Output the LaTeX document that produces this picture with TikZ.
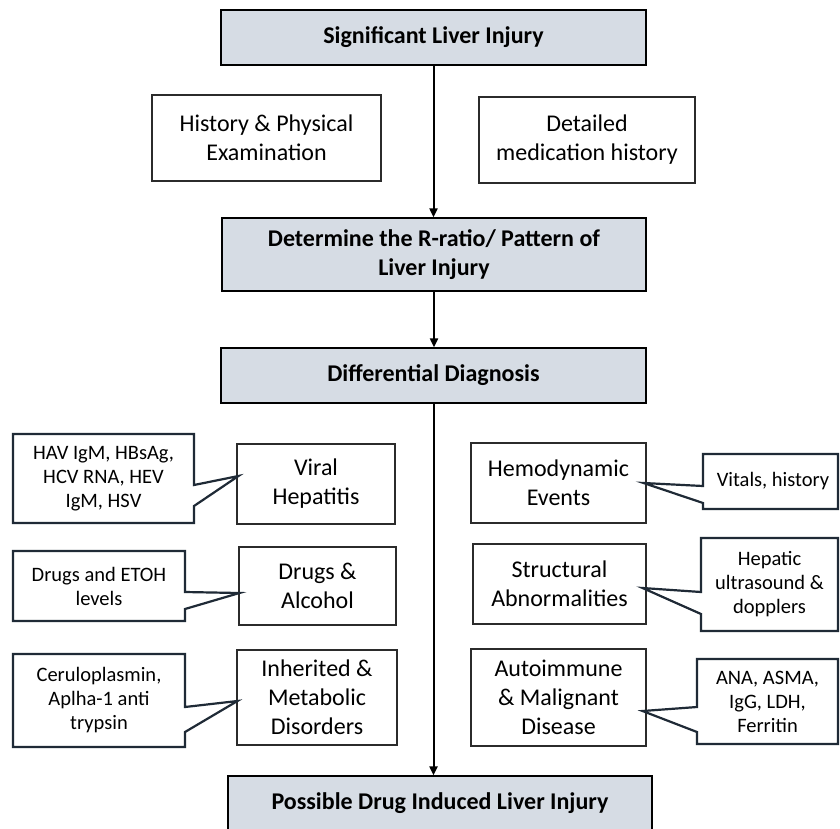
\documentclass[tikz,border=0pt]{standalone}
\usepackage{fontspec}
\setmainfont{Carlito}
\usetikzlibrary{arrows.meta,calc}
\definecolor{boxfill}{HTML}{D6DCE4}
\definecolor{callline}{HTML}{1F2A36}
\definecolor{boxline}{HTML}{2B2B2B}
\tikzset{
  plainbox/.style={draw=boxline, line width=1.1pt, fill=white, inner sep=2pt, align=center,
    font=\fontsize{24}{29}\selectfont},
  headbox/.style={draw=black, line width=1.3pt, fill=boxfill, inner sep=2pt, align=center,
    font=\fontsize{24}{29}\selectfont\bfseries},
  calltext/.style={inner sep=0pt, align=center, font=\fontsize{20.5}{24}\selectfont},
  callout/.style={draw=callline, line width=2.2pt, line join=miter, fill=white},
  flow/.style={draw=black, line width=2pt, -{Triangle[length=9pt,width=8pt]}},
}
\begin{document}
\begin{tikzpicture}[x=1pt,y=-1pt]
\useasboundingbox (0,0) rectangle (840,828);
\clip (0,0) rectangle (840,828);
\fill[white] (0,0) rectangle (840,828);

% main column
\node[headbox, minimum width=425pt, minimum height=55pt] (top) at (433.5,37.5) {Significant Liver Injury};
\node[plainbox, minimum width=229pt, minimum height=86pt] (hp) at (266.5,138) {History \& Physical\\Examination};
\node[plainbox, minimum width=216pt, minimum height=86pt] (dm) at (587,140) {Detailed\\medication history};
\node[headbox, minimum width=424pt, minimum height=73pt] (rr) at (434,254.5) {Determine the R-ratio/ Pattern of\\Liver Injury};
\node[headbox, minimum width=425pt, minimum height=55pt] (dd) at (433.5,375.5) {Differential Diagnosis};
\node[headbox, minimum width=424pt, minimum height=55pt] (pd) at (440,803.5) {Possible Drug Induced Liver Injury};

% differential boxes
\node[plainbox, minimum width=158pt, minimum height=80pt] (vh) at (316,484) {Viral\\Hepatitis};
\node[plainbox, minimum width=157pt, minimum height=78pt] (da) at (317.5,586) {Drugs \&\\Alcohol};
\node[plainbox, minimum width=160pt, minimum height=95pt] (im) at (317,697.5) {Inherited \&\\Metabolic\\Disorders};
\node[plainbox, minimum width=175pt, minimum height=80pt] (he) at (558.5,483) {Hemodynamic\\Events};
\node[plainbox, minimum width=173pt, minimum height=80pt] (sa) at (559.5,584) {Structural\\Abnormalities};
\node[plainbox, minimum width=175pt, minimum height=97pt] (am) at (558.5,697.5) {Autoimmune\\\& Malignant\\Disease};

% arrows
\draw[flow] (top.south) -- (top.south |- rr.north);
\draw[flow] (rr.south) -- (rr.south |- dd.north);
\draw[flow] (dd.south) -- (dd.south |- pd.north);

% callout tips
\coordinate (tvh) at ($(vh.west)+(2,-8)$);
\coordinate (tda) at ($(da.west)+(1,7)$);
\coordinate (tim) at ($(im.west)+(1,3.5)$);
\coordinate (the) at ($(he.east)+(-3,0)$);
\coordinate (tsa) at ($(sa.east)+(-4,4)$);
\coordinate (tam) at ($(am.east)+(-4,13.5)$);

% left callouts
\draw[callout] (13,434) -- (194,434) -- (194,485) -- (tvh) -- (194,506) -- (194,523) -- (13,523) -- cycle;
\draw[callout] (13,551) -- (185,551) -- (185,592) -- (tda) -- (185,609) -- (185,621) -- (13,621) -- cycle;
\draw[callout] (13,654) -- (185,654) -- (185,707) -- (tim) -- (185,732) -- (185,747) -- (13,747) -- cycle;
% right callouts
\draw[callout] (838,454) -- (703,454) -- (703,486) -- (the) -- (703,503) -- (703,509) -- (838,509) -- cycle;
\draw[callout] (838,538) -- (701,538) -- (701,592) -- (tsa) -- (701,614) -- (701,631) -- (838,631) -- cycle;
\draw[callout] (838,659) -- (697,659) -- (697,707) -- (tam) -- (697,732) -- (697,744) -- (838,744) -- cycle;

% callout texts
\node[calltext] (cvh) at (103.5,478.5) {HAV IgM, HBsAg,\\HCV RNA, HEV\\IgM, HSV};
\node[calltext] (cda) at (99,586) {Drugs and ETOH\\levels};
\node[calltext] (cim) at (99,700.5) {Ceruloplasmin,\\Aplha-1 anti\\trypsin};
\node[calltext] (che) at (773,481.5) {Vitals, history};
\node[calltext] (csa) at (769.5,584.5) {Hepatic\\ultrasound \&\\dopplers};
\node[calltext] (cam) at (767.5,701.5) {ANA, ASMA,\\IgG, LDH,\\Ferritin};
\end{tikzpicture}
\end{document}
